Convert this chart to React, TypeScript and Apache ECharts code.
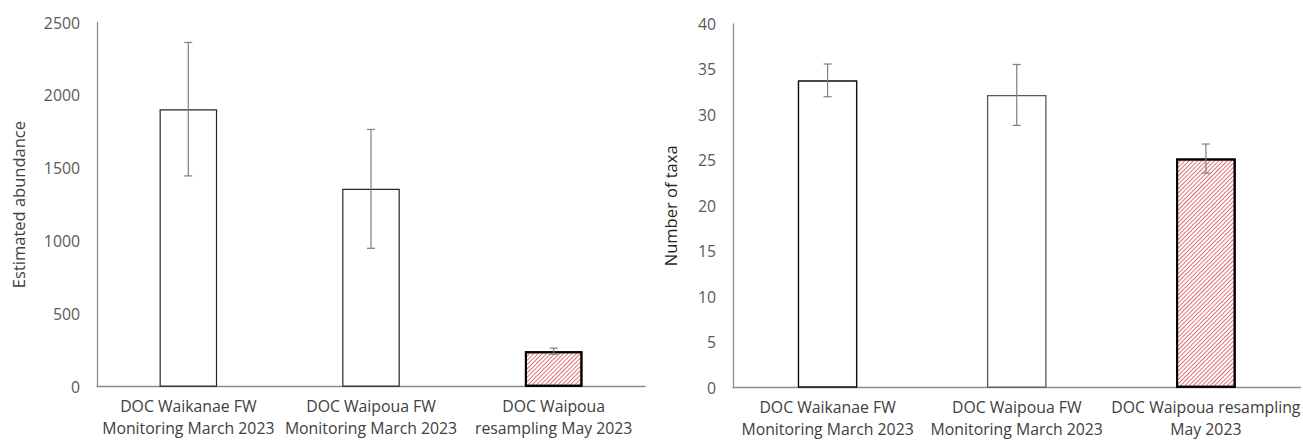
import React, { useEffect, useRef } from "react";
import * as echarts from "echarts";

const leftCategories = [
  "DOC Waikanae FW\nMonitoring March 2023",
  "DOC Waipoua FW\nMonitoring March 2023",
  "DOC Waipoua\nresampling May 2023",
];
const rightCategories = [
  "DOC Waikanae FW\nMonitoring March 2023",
  "DOC Waipoua FW\nMonitoring March 2023",
  "DOC Waipoua resampling\nMay 2023",
];
const abundance = [1905, 1358, 244];
const abundanceErr = [458, 408, 21];
const taxa = [33.8, 32.2, 25.2];
const taxaErr = [1.8, 3.35, 1.6];
const abundanceTicks = { min: 0, max: 2500, interval: 500 };
const taxaTicks = { min: 0, max: 40, interval: 5 };

const FONT = "Open Sans";

const hatch = {
  color: "#fff",
  decal: {
    symbol: "rect",
    symbolSize: 1,
    color: "rgba(210, 55, 55, 0.7)",
    dashArrayX: [1, 0],
    dashArrayY: [1, 2],
    rotation: -Math.PI / 4,
  },
};

function barData(values: number[], borders: { c: string; w: number }[]) {
  return values.map((v, i) => {
    const last = i === values.length - 1;
    return {
      value: v,
      itemStyle: last
        ? { ...hatch, borderColor: "#000", borderWidth: 2 }
        : { color: "#fff", borderColor: borders[i].c, borderWidth: borders[i].w },
    };
  });
}

function errorSeries(values: number[], errs: number[], xi: number, yi: number) {
  return {
    type: "custom",
    xAxisIndex: xi,
    yAxisIndex: yi,
    z: 10,
    data: values.map((v, i) => [i, v - errs[i], v + errs[i]]),
    renderItem: (params: any, api: any) => {
      const x = api.value(0);
      const lo = api.coord([x, api.value(1)]);
      const hi = api.coord([x, api.value(2)]);
      const hw = 4;
      const style = { stroke: "#7f7f7f", lineWidth: 1.2 };
      return {
        type: "group",
        children: [
          { type: "line", shape: { x1: lo[0], y1: lo[1], x2: hi[0], y2: hi[1] }, style },
          { type: "line", shape: { x1: lo[0] - hw, y1: lo[1], x2: lo[0] + hw, y2: lo[1] }, style },
          { type: "line", shape: { x1: hi[0] - hw, y1: hi[1], x2: hi[0] + hw, y2: hi[1] }, style },
        ],
      };
    },
  };
}

export default function App() {
  const ref = useRef<HTMLDivElement>(null);
  useEffect(() => {
    if (!ref.current) return;
    const chart = echarts.init(ref.current, undefined, { renderer: "svg" });
    const axisLine = { show: true, lineStyle: { color: "#8c8c8c", width: 1.3 } };
    const catAxis = (idx: number, cats: string[]) => ({
      type: "category",
      gridIndex: idx,
      data: cats,
      axisLine,
      axisTick: { show: false },
      axisLabel: {
        color: "#404040",
        fontFamily: FONT,
        fontSize: 15.8,
        lineHeight: 22,
        margin: 8,
        interval: 0,
      },
    });
    const valAxis = (idx: number, t: any, name: string, gap: number, nameColor: string) => ({
      type: "value",
      gridIndex: idx,
      min: t.min,
      max: t.max,
      interval: t.interval,
      axisLine,
      axisTick: { show: false },
      splitLine: { show: false },
      axisLabel: {
        color: "#595959",
        fontFamily: FONT,
        fontSize: 15.8,
        margin: 17,
        formatter: (v: number) => String(v),
      },
      name,
      nameLocation: "middle",
      nameGap: gap,
      nameTextStyle: { color: nameColor, fontFamily: FONT, fontSize: 16.5 },
    });
    chart.setOption({
      animation: false,
      backgroundColor: "#fff",
      grid: [
        { left: 97, right: 1303 - 645, top: 22.5, bottom: 441 - 386.7 },
        { left: 733, right: 0, top: 24, bottom: 441 - 387.7 },
      ],
      xAxis: [catAxis(0, leftCategories), catAxis(1, rightCategories)],
      yAxis: [
        valAxis(0, abundanceTicks, "Estimated abundance", 70, "#404040"),
        valAxis(1, taxaTicks, "Number of taxa", 54, "#262626"),
      ],
      series: [
        {
          type: "bar",
          xAxisIndex: 0,
          yAxisIndex: 0,
          barWidth: "31.5%",
          data: barData(abundance, [
            { c: "#262626", w: 1.2 },
            { c: "#262626", w: 1.2 },
          ]),
        },
        {
          type: "bar",
          xAxisIndex: 1,
          yAxisIndex: 1,
          barWidth: "31.5%",
          data: barData(taxa, [
            { c: "#0d0d0d", w: 1.4 },
            { c: "#595959", w: 1.3 },
          ]),
        },
        errorSeries(abundance, abundanceErr, 0, 0),
        errorSeries(taxa, taxaErr, 1, 1),
      ],
    });
    return () => chart.dispose();
  }, []);
  return (
    <div
      ref={ref}
      style={{ position: "fixed", left: 0, top: 0, width: 1303, height: 441 }}
    />
  );
}
